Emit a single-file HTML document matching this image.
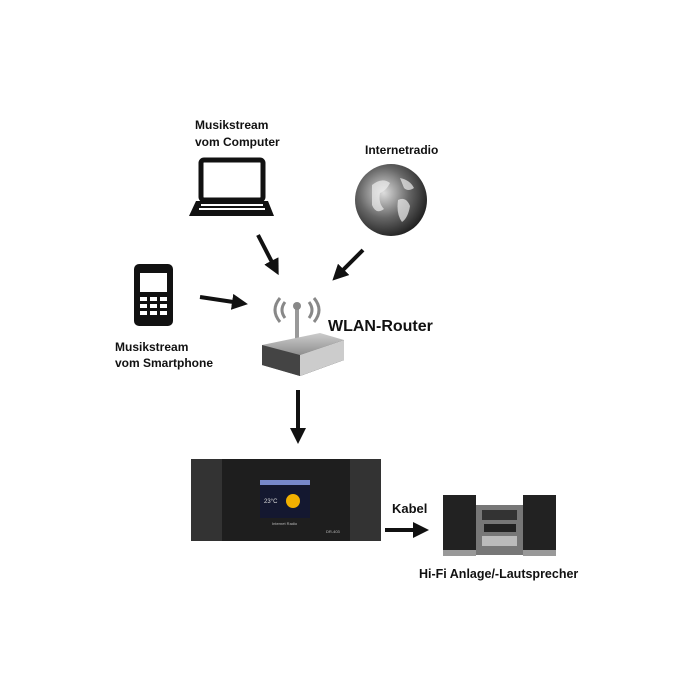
<!DOCTYPE html>
<html><head><meta charset="utf-8"><style>
html,body{margin:0;padding:0;background:#fff;width:700px;height:700px;overflow:hidden}
text{font-family:"Liberation Sans",sans-serif;font-weight:bold;fill:#111}
</style></head><body>
<svg width="700" height="700" viewBox="0 0 700 700" xmlns="http://www.w3.org/2000/svg">
<defs>
<marker id="ah" markerWidth="4" markerHeight="4" refX="2" refY="2" orient="auto" markerUnits="strokeWidth">
<path d="M0,0 L4,2 L0,4 z" fill="#111"/></marker>
<radialGradient id="gl" cx="0.4" cy="0.4" r="0.7"><stop offset="0" stop-color="#ddd"/><stop offset="0.5" stop-color="#666"/><stop offset="1" stop-color="#111"/></radialGradient>
<linearGradient id="rt" x1="0" y1="0" x2="0" y2="1"><stop offset="0" stop-color="#ccc"/><stop offset="1" stop-color="#555"/></linearGradient>
</defs>
<!-- labels -->
<text x="195" y="129" font-size="12">Musikstream</text>
<text x="195" y="146" font-size="12">vom Computer</text>
<text x="365" y="154" font-size="12">Internetradio</text>
<text x="328" y="331" font-size="16">WLAN-Router</text>
<text x="115" y="351" font-size="12">Musikstream</text>
<text x="115" y="367" font-size="12">vom Smartphone</text>
<text x="392" y="513" font-size="13">Kabel</text>
<text x="419" y="578" font-size="12.5">Hi-Fi Anlage/-Lautsprecher</text>
<!-- laptop -->
<rect x="201" y="160" width="62" height="40" rx="3" fill="none" stroke="#111" stroke-width="5"/>
<path d="M196,201 L268,201 L274,216 L189,216 Z" fill="#111"/>
<g fill="#fff"><rect x="201" y="204" width="62" height="2"/><rect x="199" y="208" width="66" height="2"/></g>
<!-- globe -->
<circle cx="391" cy="200" r="36" fill="url(#gl)"/>
<path d="M372,185 q10,-8 18,-2 q-4,8 -10,10 q-2,10 4,16 q-8,6 -12,-4 z M400,178 q10,2 14,10 q-6,4 -10,0 z M398,200 q8,-4 12,6 q-2,12 -8,16 q-6,-8 -4,-22z" fill="#eee" opacity="0.7"/>
<!-- phone -->
<rect x="134" y="264" width="39" height="62" rx="5" fill="#111"/>
<rect x="140" y="273" width="27" height="19" fill="#fff"/>
<g fill="#fff"><rect x="140" y="297" width="7" height="4"/><rect x="150" y="297" width="7" height="4"/><rect x="160" y="297" width="7" height="4"/>
<rect x="140" y="304" width="7" height="4"/><rect x="150" y="304" width="7" height="4"/><rect x="160" y="304" width="7" height="4"/>
<rect x="140" y="311" width="7" height="4"/><rect x="150" y="311" width="7" height="4"/><rect x="160" y="311" width="7" height="4"/></g>
<!-- router -->
<path d="M285,302 q-6,8 0,16 M309,302 q6,8 0,16 M280,298 q-10,12 0,24 M314,298 q10,12 0,24" fill="none" stroke="#888" stroke-width="3"/>
<rect x="295" y="305" width="4" height="40" fill="#999"/>
<circle cx="297" cy="306" r="4" fill="#888"/>
<path d="M262,345 L320,333 L344,340 L344,360 L300,376 L262,365 Z" fill="url(#rt)"/>
<path d="M262,345 L300,355 L344,340 L344,360 L300,376 L262,365 Z" fill="#444"/>
<path d="M300,355 L344,340 L344,360 L300,376 Z" fill="#ccc"/>
<!-- arrows -->
<g stroke="#111" stroke-width="4" fill="none" marker-end="url(#ah)">
<line x1="258" y1="235" x2="275" y2="268"/>
<line x1="363" y1="250" x2="338" y2="275"/>
<line x1="200" y1="297" x2="240" y2="303"/>
<line x1="298" y1="390" x2="298" y2="436"/>
<line x1="385" y1="530" x2="421" y2="530"/>
</g>
<!-- radio -->
<rect x="191" y="459" width="190" height="82" fill="#1e1e1e"/>
<rect x="191" y="459" width="31" height="82" fill="#333"/>
<rect x="350" y="459" width="31" height="82" fill="#333"/>
<rect x="260" y="480" width="50" height="38" fill="#141830"/>
<rect x="260" y="480" width="50" height="5" fill="#7788cc"/>
<circle cx="293" cy="501" r="7" fill="#f2b000"/>
<text x="264" y="503" font-size="6" style="fill:#ddd;font-weight:normal">23°C</text>
<text x="272" y="525" font-size="4" style="fill:#bbb;font-weight:normal">Internet Radio</text>
<text x="326" y="533" font-size="4" style="fill:#bbb;font-weight:normal">DR-403</text>
<!-- hifi -->
<rect x="443" y="495" width="33" height="61" fill="#222"/>
<rect x="523" y="495" width="33" height="61" fill="#222"/>
<rect x="443" y="550" width="33" height="6" fill="#999"/>
<rect x="523" y="550" width="33" height="6" fill="#999"/>
<rect x="476" y="505" width="47" height="50" fill="#777"/>
<rect x="482" y="510" width="35" height="10" fill="#333"/>
<rect x="484" y="524" width="32" height="8" fill="#222"/>
<rect x="482" y="536" width="35" height="10" fill="#bbb"/>
</svg>
</body></html>
